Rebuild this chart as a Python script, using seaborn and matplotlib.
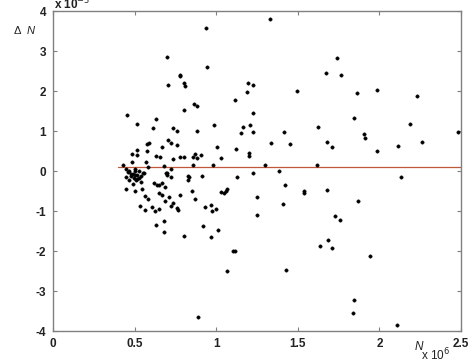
import matplotlib
matplotlib.use("Agg")
import matplotlib.pyplot as plt
import seaborn as sns
import pandas as pd

# N (x 10^6) and Delta N (x 10^-3)
n_values = [
    0.455, 0.515, 0.631, 0.615, 0.70, 0.707, 0.78, 0.777, 0.80, 0.81, 0.805, 0.864, 0.88,
    0.94, 0.945, 0.884, 0.737, 0.758, 0.985, 1.117, 1.123, 1.007, 1.03, 0.98, 1.15, 1.164,
    1.189, 1.197, 1.227, 1.224, 1.209, 1.224, 1.20, 1.20, 1.225, 0.574, 0.588, 0.576, 0.517,
    0.484, 0.513, 0.484, 0.57, 0.431, 0.447, 0.668, 0.631, 0.656, 0.584, 0.705, 0.721, 0.76,
    0.737, 0.778, 0.80, 0.87, 0.882, 0.907, 0.86, 0.68, 0.723, 0.692, 0.70, 0.553, 0.50,
    0.46, 0.833, 0.91, 1.13, 0.858,
    1.328, 1.742, 1.673, 1.763, 1.497, 1.865, 1.985, 2.228, 1.842, 2.186, 1.622, 1.415,
    1.906, 1.91, 1.338, 1.45, 1.677, 1.71, 1.983, 2.114, 2.263, 2.48, 1.297, 1.616, 1.387,
    2.132, 1.424, 1.536, 1.536, 1.681, 1.248, 1.409, 1.867, 1.25, 1.726, 1.758, 1.687,
    1.636, 1.708, 1.944, 1.43, 1.842, 1.84, 2.11,
    0.447, 0.468, 0.49, 0.509, 0.502, 0.539, 0.547, 0.533, 0.564, 0.584, 0.562, 0.605,
    0.619, 0.64, 0.65, 0.668, 0.684, 0.65, 0.67, 0.625, 0.648, 0.631, 0.682, 0.682, 0.688,
    0.71, 0.72, 0.733, 0.758, 0.766, 0.776, 0.80, 0.83, 0.83, 0.85, 0.87, 0.93, 0.917,
    0.97, 0.974, 0.997, 0.97, 1.011, 1.03, 1.048, 1.062, 1.068, 1.103, 1.113, 1.066, 0.886,
    0.468, 0.476, 0.488, 0.50, 0.502, 0.517, 0.527, 0.556, 0.723, 0.697, 0.45, 0.525,
    0.54, 0.495, 0.515, 0.48,
]
delta_n = [
    1.40, 1.17, 1.29, 1.07, 2.86, 2.14, 2.41, 2.37, 2.21, 2.13, 1.52, 1.67, 1.62,
    3.58, 2.61, 1.00, 1.07, 1.01, 1.14, 1.78, 0.56, 0.60, 0.33, 0.16, 0.96, 1.09,
    1.97, 2.21, 2.14, 1.44, 1.14, 0.98, 0.46, 0.38, -0.06, 0.67, 0.71, 0.49, 0.53,
    0.42, 0.39, 0.23, 0.23, 0.16, 0.06, 0.59, 0.38, 0.34, 0.11, 0.78, 0.71, 0.66,
    0.31, 0.36, 0.34, 0.43, 0.32, 0.40, 0.14, 0.125, 0.06, -0.04, -0.11, -0.04, 0.04,
    -0.02, -0.14, -0.12, -0.14, 0.36,
    3.80, 2.82, 2.45, 2.39, 2.01, 1.95, 2.02, 1.875, 1.32, 1.175, 1.09, 0.98,
    0.93, 0.83, 0.71, 0.675, 0.73, 0.60, 0.51, 0.625, 0.73, 0.97, 0.16, 0.14, 0.01,
    -0.14, -0.35, -0.50, -0.56, -0.475, -0.66, -0.83, -0.75, -1.10, -1.12, -1.23, -1.725,
    -1.88, -1.925, -2.13, -2.47, -3.22, -3.54, -3.86,
    -0.44, -0.225, -0.325, -0.225, -0.49, -0.27, -0.46, -0.88, -0.63, -0.69, -0.98, -0.89,
    -0.31, -0.36, -0.34, -0.31, -0.39, -0.56, -0.60, -1.00, -0.95, -1.36, -1.25, -1.52, -0.76,
    -0.66, -0.875, -0.79, -0.93, -0.975, -0.60, -1.625, -0.125, -0.225, -0.51, -0.69, -0.90, -1.38,
    -0.84, -1.01, -0.96, -1.65, -1.48, -0.525, -0.56, -0.49, -0.46, -2.00, -2.00, -2.49, -3.64,
    -0.01, -0.075, -0.075, -0.09, -0.01, -0.11, -0.01, -0.06, -0.14, -0.06, -0.15, -0.18,
    -0.13, -0.17, -0.20, -0.12,
]

fit_n = [0.4, 2.5]
fit_delta = [0.1, 0.1]

x_ticks = [0, 0.5, 1, 1.5, 2, 2.5]
x_tick_labels = ["0", "0.5", "1", "1.5", "2", "2.5"]
y_ticks = [-4, -3, -2, -1, 0, 1, 2, 3, 4]
y_tick_labels = ["-4", "-3", "-2", "-1", "0", "1", "2", "3", "4"]

df = pd.DataFrame({"N": n_values, "dN": delta_n})
fit_df = pd.DataFrame({"N": fit_n, "dN": fit_delta})

sns.set_theme(style="white")
plt.rcParams["font.family"] = ["Liberation Sans", "DejaVu Sans"]

fig = plt.figure(figsize=(4.73, 3.64), dpi=100)
ax = fig.add_axes([53 / 473, 1 - 331 / 364, (461 - 53) / 473, (331 - 11) / 364])

sns.lineplot(data=fit_df, x="N", y="dN", ax=ax, color="#c0583a", linewidth=0.9)
sns.scatterplot(data=df, x="N", y="dN", ax=ax, color="black", s=6, marker="o",
                edgecolor="black", linewidth=0.3, zorder=3)

ax.set_xlim(0, 2.5)
ax.set_ylim(-4, 4)
ax.set_xticks(x_ticks)
ax.set_xticklabels(x_tick_labels)
ax.set_yticks(y_ticks)
ax.set_yticklabels(y_tick_labels)
ax.set_xlabel("")
ax.set_ylabel("")

for sp in ax.spines.values():
    sp.set_color("#808080")
    sp.set_linewidth(1.0)
    sp.set_visible(True)

ax.tick_params(direction="in", length=3, width=0.8, color="#808080",
               top=True, right=True, bottom=True, left=True,
               labelsize=8.5, labelcolor="#222222", pad=5)
for lab in ax.get_xticklabels() + ax.get_yticklabels():
    lab.set_fontweight("bold")

fig.text(14 / 473, 1 - 31 / 364, "Δ", fontsize=8, color="#222222", ha="left", va="center")
fig.text(27 / 473, 1 - 31 / 364, "N", fontsize=8, style="italic", color="#222222",
         ha="left", va="center")
fig.text(54 / 473, 1 - 4 / 364, "x 10$^{-3}$", fontsize=8.5, color="#222222",
         ha="left", va="center", fontweight="bold")

fig.text(415 / 473, 1 - 347 / 364, "N", fontsize=8.5, style="italic", color="#222222",
         ha="left", va="center")
fig.text(421 / 473, 1 - 355 / 364, "x 10$^{6}$", fontsize=8.5, color="#222222",
         ha="left", va="center")

fig.savefig("out.png", dpi=100, facecolor="white")
